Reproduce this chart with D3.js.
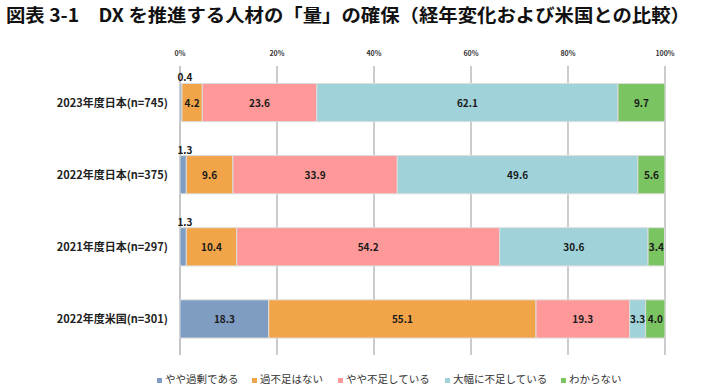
<!DOCTYPE html>
<html lang="ja">
<head>
<meta charset="UTF-8">
<title>DXを推進する人材の「量」の確保</title>
<script src="https://d3js.org/d3.v7.min.js"></script>
<style>
  body { margin: 0; background: #fff; }
  svg text { font-family: "Noto Sans CJK JP", "Noto Sans", sans-serif; }
</style>
</head>
<body>
<div id="chart"></div>
<script>
// data
const groups = ["2023年度日本(n=745)", "2022年度日本(n=375)", "2021年度日本(n=297)", "2022年度米国(n=301)"];
const answers = ["やや過剰である", "過不足はない", "やや不足している", "大幅に不足している", "わからない"];
const overSupply = [0.4, 1.3, 1.3, 18.3];
const balanced = [4.2, 9.6, 10.4, 55.1];
const slightShort = [23.6, 33.9, 54.2, 19.3];
const severeShort = [62.1, 49.6, 30.6, 3.3];
const unknown = [9.7, 5.6, 3.4, 4.0];
const tickLabels = ["0%", "20%", "40%", "60%", "80%", "100%"];
const colors = ["#7f9dc3", "#f2a548", "#ff9999", "#9fd3d9", "#7bc462"];

const width = 718, height = 388;
const svg = d3.select("#chart").append("svg")
    .attr("width", width).attr("height", height);

// title
svg.append("text")
    .attr("x", 6).attr("y", 22)
    .attr("textLength", 684).attr("lengthAdjust", "spacingAndGlyphs")
    .attr("font-size", 18).attr("font-weight", "bold").attr("fill", "#111")
    .text("図表 3-1　DX を推進する人材の「量」の確保（経年変化および米国との比較）");

const x = d3.scaleLinear().domain([0, 100]).range([180, 665]);
const y = d3.scaleBand().domain(groups).range([66.5, 355]).paddingInner(0.47).paddingOuter(0.235);

// gridlines
svg.append("g").selectAll("line")
    .data(d3.range(0, 101, 20))
    .join("line")
    .attr("x1", d => x(d)).attr("x2", d => x(d))
    .attr("y1", 66).attr("y2", 355)
    .attr("stroke", d => d === 0 ? "#8c8c8c" : "#bfbfbf")
    .attr("stroke-width", d => d === 0 ? 1 : 1.6);

// top tick labels
svg.append("g").selectAll("text")
    .data(tickLabels)
    .join("text")
    .attr("x", (d, i) => x(i * 20)).attr("y", 56)
    .attr("text-anchor", "middle")
    .attr("font-size", 7).attr("font-weight", "bold").attr("fill", "#333")
    .text(d => d);

// category labels
svg.append("g").selectAll("text")
    .data(groups)
    .join("text")
    .attr("x", 168).attr("y", d => y(d) + y.bandwidth() / 2 + 4)
    .attr("text-anchor", "end")
    .attr("font-size", 11).attr("font-weight", "bold").attr("fill", "#222")
    .text(d => d);

// stacked bars
const series = [overSupply, balanced, slightShort, severeShort, unknown];
const rows = groups.map((g, i) => {
  const o = { group: g };
  answers.forEach((a, k) => { o[a] = series[k][i]; });
  return o;
});
const stack = d3.stack().keys(answers)(rows);

const layers = svg.append("g").selectAll("g")
    .data(stack)
    .join("g")
    .attr("fill", (d, k) => colors[k]);

layers.selectAll("rect")
    .data(d => d)
    .join("rect")
    .attr("x", d => x(d[0]))
    .attr("width", d => x(d[1]) - x(d[0]))
    .attr("y", d => y(d.data.group))
    .attr("height", y.bandwidth())
    .attr("stroke", "#dcdcdc")
    .attr("stroke-width", 1);

// value labels
layers.selectAll("text")
    .data(d => d.map(v => ({ v: v, val: v[1] - v[0] })))
    .join("text")
    .attr("x", d => d.val < 2 ? x(d.v[0]) + 5 : (x(d.v[0]) + x(d.v[1])) / 2)
    .attr("y", d => d.val < 2 ? y(d.v.data.group) - 2 : y(d.v.data.group) + y.bandwidth() / 2 + 4)
    .attr("text-anchor", "middle")
    .attr("font-size", 10).attr("font-weight", "bold").attr("fill", "#1a1a1a")
    .text(d => d.val.toFixed(1));

// legend
const legendX = [157, 252, 338, 445, 561];
const legend = svg.append("g").selectAll("g")
    .data(answers)
    .join("g")
    .attr("transform", (d, i) => `translate(${legendX[i]},383)`);
legend.append("rect")
    .attr("x", 0).attr("y", -5).attr("width", 5).attr("height", 5)
    .attr("fill", (d, i) => colors[i]);
legend.append("text")
    .attr("x", 8).attr("y", 0)
    .attr("font-size", 10.5).attr("fill", "#333")
    .text(d => d);
</script>
</body>
</html>
